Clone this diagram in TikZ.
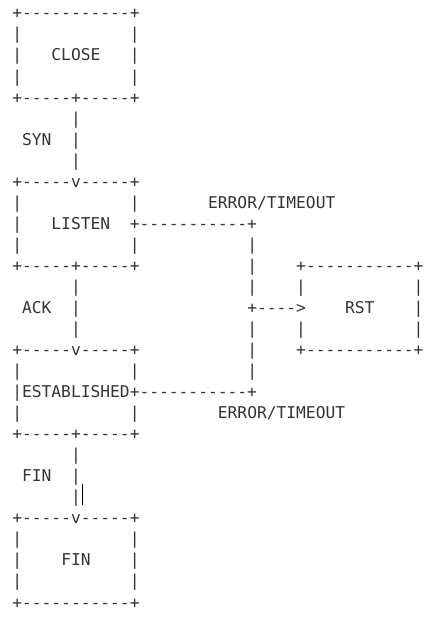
\documentclass[tikz,border=0pt]{standalone}
\usepackage{fontspec}
\usepackage{xcolor}
\newfontfamily\asciifont{DejaVu Sans Mono}
\definecolor{asciigray}{HTML}{333333}
\usetikzlibrary{positioning}

\tikzset{
  chr/.style={anchor=base west, inner sep=0pt, text=asciigray,
    font=\asciifont\fontsize{16.26pt}{21pt}\selectfont},
}

\begin{document}
\begin{tikzpicture}
\useasboundingbox (0,0) rectangle (434pt,-618pt);
% one entry per piece of text: row/column/text
\foreach \row/\col/\txt [count=\i] in {
  0/0/{+-----------+},
  1/0/{|}, 1/12/{|},
  2/0/{|}, 2/4/{CLOSE}, 2/12/{|},
  3/0/{|}, 3/12/{|},
  4/0/{+-----+-----+},
  5/6/{|},
  6/1/{SYN}, 6/6/{|},
  7/6/{|},
  8/0/{+-----v-----+},
  9/0/{|}, 9/12/{|}, 9/20/{ERROR/TIMEOUT},
  10/0/{|}, 10/4/{LISTEN}, 10/12/{+-----------+},
  11/0/{|}, 11/12/{|}, 11/24/{|},
  12/0/{+-----+-----+}, 12/24/{|}, 12/29/{+-----------+},
  13/6/{|}, 13/24/{|}, 13/29/{|}, 13/41/{|},
  14/1/{ACK}, 14/6/{|}, 14/24/{+---->}, 14/34/{RST}, 14/41/{|},
  15/6/{|}, 15/24/{|}, 15/29/{|}, 15/41/{|},
  16/0/{+-----v-----+}, 16/24/{|}, 16/29/{+-----------+},
  17/0/{|}, 17/12/{|}, 17/24/{|},
  18/0/{|ESTABLISHED+-----------+},
  19/0/{|}, 19/12/{|}, 19/21/{ERROR/TIMEOUT},
  20/0/{+-----+-----+},
  21/6/{|},
  22/1/{FIN}, 22/6/{|},
  23/6/{|},
  24/0/{+-----v-----+},
  25/0/{|}, 25/12/{|},
  26/0/{|}, 26/5/{FIN}, 26/12/{|},
  27/0/{|}, 27/12/{|},
  28/0/{+-----------+}}
  \node[chr] (t\i) at ({12.1pt+\col*9.79pt}, {-18.9pt-\row*21.04pt}) {\txt};

% the second bar beside the last arrow
\coordinate (bartop) at (82pt,-484pt);
\coordinate (barbot) at (82pt,-505pt);
\draw[black, line width=0.9pt] (bartop) -- (barbot);
\end{tikzpicture}
\end{document}
